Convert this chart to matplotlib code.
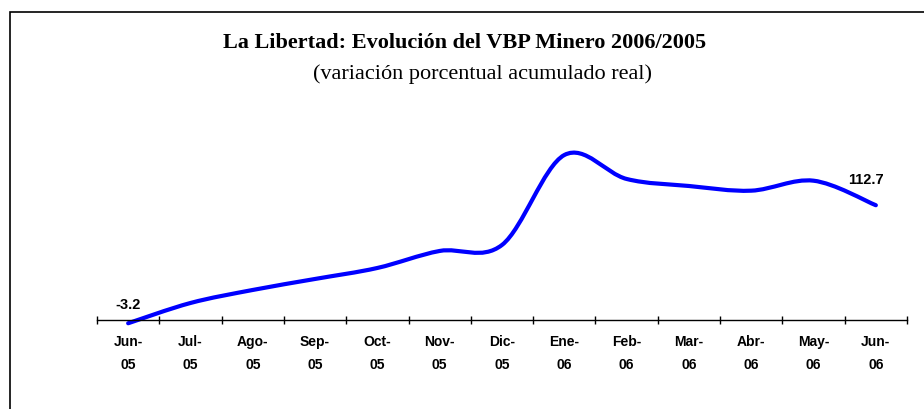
import numpy as np
import matplotlib.pyplot as plt
from matplotlib.path import Path
from matplotlib.patches import PathPatch, Rectangle

# meses y variacion porcentual acumulada
meses = ['Jun-\n05', 'Jul-\n05', 'Ago-\n05', 'Sep-\n05', 'Oct-\n05', 'Nov-\n05', 'Dic-\n05',
         'Ene-\n06', 'Feb-\n06', 'Mar-\n06', 'Abr-\n06', 'May-\n06', 'Jun-\n06']
variacion = [-3.2, 16.7, 29.5, 40.3, 51.1, 67.8, 73.7, 162.0, 138.5, 131.6, 127.0, 136.8, 112.7]

fig = plt.figure(figsize=(9.24, 4.09), dpi=100)
ax = fig.add_axes([97 / 924, 89 / 409, 810 / 924, 183.3 / 409])

x = np.arange(len(variacion))
y = np.array(variacion)

# linea suavizada tipo Excel (bezier cubica por tramos)
n = len(x)
verts = [(x[0], y[0])]
codes = [Path.MOVETO]
for i in range(n - 1):
    i0 = max(i - 1, 0)
    i3 = min(i + 2, n - 1)
    c1 = (x[i] + (x[i + 1] - x[i0]) / 6, y[i] + (y[i + 1] - y[i0]) / 6)
    c2 = (x[i + 1] - (x[i3] - x[i]) / 6, y[i + 1] - (y[i3] - y[i]) / 6)
    verts += [c1, c2, (x[i + 1], y[i + 1])]
    codes += [Path.CURVE4] * 3
ax.add_patch(PathPatch(Path(verts, codes), fill=False, edgecolor='#0000FF', lw=3,
                       clip_on=False, capstyle='round', joinstyle='round'))

ax.set_xlim(-0.5, len(x) - 0.5)
ax.set_ylim(0, 180)

for s in ['top', 'right', 'left']:
    ax.spines[s].set_visible(False)
ax.spines['bottom'].set_linewidth(1.0)
ax.set_yticks([])

ax.set_xticks(np.arange(-0.5, len(x), 1.0))
ax.set_xticklabels([])
ax.tick_params(axis='x', which='major', direction='inout', length=6, width=1)
ax.set_xticks(x, minor=True)
ax.set_xticklabels(meses, minor=True, fontsize=10, fontweight='bold',
                   family='Liberation Sans', linespacing=1.75)
ax.tick_params(axis='x', which='minor', length=0, pad=11)

# etiquetas primer y ultimo valor
ax.annotate('-3.2', (x[0], y[0]), xytext=(0, 13), textcoords='offset points',
            ha='center', va='center', fontsize=10.5, fontweight='bold',
            family='Liberation Sans', annotation_clip=False)
ax.annotate('112.7', (x[-1], y[-1]), xytext=(-7, 18), textcoords='offset points',
            ha='center', va='center', fontsize=10.5, fontweight='bold',
            family='Liberation Sans', annotation_clip=False)

fig.text(465 / 924, 1 - 43 / 409, 'La Libertad: Evolución del VBP Minero 2006/2005',
         ha='center', va='center', fontsize=16, fontweight='bold', family='Liberation Serif')
fig.text(482 / 924, 1 - 74 / 409, '(variación porcentual acumulado real)',
         ha='center', va='center', fontsize=16, family='Liberation Serif')

fig.patches.append(Rectangle((9.5 / 924, -0.1), 1.2, 0.1 + 1 - 12 / 409, transform=fig.transFigure,
                             fill=False, edgecolor='black', lw=1.2))

fig.savefig('out.png', dpi=100)
